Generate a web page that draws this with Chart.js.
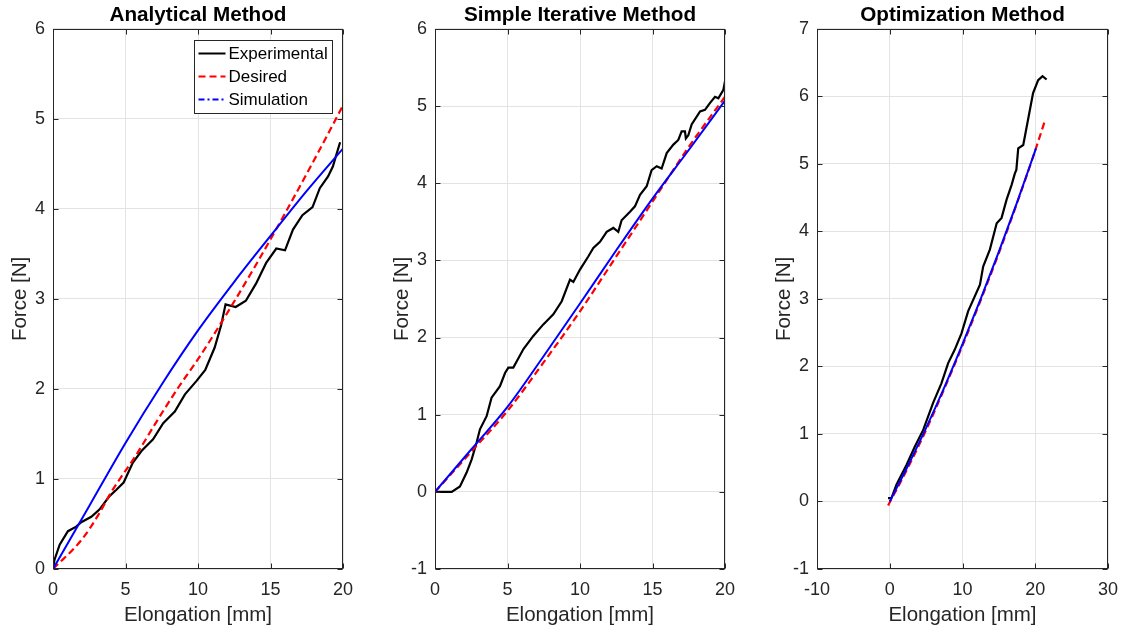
<!DOCTYPE html>
<html>
<head>
<meta charset="utf-8">
<script src="https://cdn.jsdelivr.net/npm/chart.js@4.4.1/dist/chart.umd.min.js"></script>
<style>
  html, body { margin: 0; padding: 0; background: #fff; }
  #wrap { position: relative; width: 1129px; height: 632px; overflow: hidden; background: #fff; }
  #wrap canvas { position: absolute; top: 0; }
</style>
</head>
<body>
<div id="wrap">
  <canvas id="c1" width="365" height="632" style="left:0px"></canvas>
  <canvas id="c2" width="365" height="632" style="left:382px"></canvas>
  <canvas id="c3" width="366" height="632" style="left:764px"></canvas>
</div>
<script>
// ---- Analytical method ----
const analyticalExpX = [0, 0.1, 0.46, 1.03, 1.6, 1.95, 2.64, 3.2, 3.9, 4.37, 4.87, 5.5, 6.1, 6.9, 7.6, 8.4, 9.1, 9.9, 10.5, 11.15, 11.6, 11.9, 12.6, 13.3, 14.0, 14.7, 15.4, 16.0, 16.55, 17.2, 17.9, 18.4, 18.97, 19.3, 19.54, 19.8];
const analyticalExpY = [0, 0.1, 0.27, 0.42, 0.47, 0.52, 0.58, 0.66, 0.81, 0.88, 0.96, 1.18, 1.31, 1.44, 1.62, 1.75, 1.94, 2.09, 2.21, 2.46, 2.71, 2.94, 2.91, 2.98, 3.17, 3.40, 3.56, 3.54, 3.77, 3.93, 4.02, 4.23, 4.36, 4.47, 4.60, 4.74];
const analyticalDesX = [0, 2, 3.2, 4, 5.75, 7, 8.7, 10, 12, 14, 16, 18, 20];
const analyticalDesY = [0, 0.33, 0.62, 0.85, 1.27, 1.6, 2.03, 2.33, 2.84, 3.38, 3.95, 4.54, 5.15];
const analyticalSimX = [0, 2.5, 5, 7.5, 10, 12.5, 15, 17.5, 20];
const analyticalSimY = [0, 0.7, 1.4, 2.05, 2.65, 3.19, 3.7, 4.2, 4.67];

// ---- Simple iterative method ----
const iterativeExpX = [0, 1.15, 1.72, 2.18, 2.53, 2.87, 3.1, 3.56, 3.9, 4.48, 4.83, 5.06, 5.4, 5.63, 6.1, 6.78, 7.47, 8.16, 8.74, 9.31, 9.54, 10.0, 10.57, 10.92, 11.38, 11.84, 12.3, 12.64, 12.87, 13.45, 13.79, 14.14, 14.6, 14.94, 15.29, 15.63, 15.98, 16.44, 16.78, 17.01, 17.24, 17.3, 17.47, 17.7, 18.28, 18.62, 18.97, 19.31, 19.54, 19.89, 19.95, 20.0];
const iterativeExpY = [0, 0, 0.07, 0.25, 0.42, 0.64, 0.81, 0.98, 1.22, 1.37, 1.54, 1.61, 1.61, 1.69, 1.85, 2.02, 2.17, 2.30, 2.47, 2.75, 2.72, 2.88, 3.05, 3.16, 3.24, 3.37, 3.42, 3.37, 3.52, 3.63, 3.70, 3.85, 3.96, 4.17, 4.22, 4.19, 4.39, 4.50, 4.56, 4.67, 4.67, 4.58, 4.62, 4.76, 4.93, 4.95, 5.04, 5.12, 5.10, 5.21, 5.27, 5.20];
const iterativeDesX = [0, 2.5, 5, 7.5, 10, 12.5, 15, 17.5, 20];
const iterativeDesY = [0, 0.52, 1.05, 1.68, 2.34, 3.05, 3.76, 4.47, 5.12];
const iterativeSimX = [0, 2.5, 5, 7.5, 10, 12.5, 15, 17.5, 20];
const iterativeSimY = [0, 0.55, 1.1, 1.76, 2.44, 3.13, 3.8, 4.43, 5.07];

// ---- Optimization method ----
const optimExpX = [-0.23, 0.23, 0.92, 2.3, 3.44, 4.6, 5.96, 7.1, 8.03, 8.94, 9.86, 10.78, 12.4, 12.84, 13.76, 14.7, 15.37, 16.06, 16.75, 17.2, 17.4, 17.66, 18.35, 19.0, 19.7, 20.4, 21.0, 21.56];
const optimExpY = [0.05, 0.05, 0.25, 0.54, 0.81, 1.06, 1.46, 1.75, 2.05, 2.25, 2.49, 2.82, 3.21, 3.48, 3.73, 4.12, 4.2, 4.47, 4.69, 4.86, 4.91, 5.23, 5.28, 5.65, 6.05, 6.24, 6.3, 6.25];
const optimDesX = [-0.23, 2.5, 5, 7.5, 10, 12.5, 15, 17.5, 20, 21.3];
const optimDesY = [-0.06, 0.5, 1.06, 1.67, 2.31, 2.98, 3.68, 4.42, 5.2, 5.63];
const optimSimX = [0, 2.5, 5, 7.5, 10, 12.5, 15, 17.5, 20.1];
const optimSimY = [0, 0.53, 1.09, 1.69, 2.33, 3.0, 3.7, 4.43, 5.23];

const plotTitles = ['Analytical Method', 'Simple Iterative Method', 'Optimization Method'];
const seriesLabels = ['Experimental', 'Desired', 'Simulation'];
const xAxisLabel = 'Elongation [mm]';
const yAxisLabel = 'Force [N]';

const FONT = "'Liberation Sans', Arial, Helvetica, sans-serif";
const TICK_COLOR = '#262626';
const GRID_COLOR = '#e3e3e3';
Chart.defaults.font.family = FONT;
Chart.defaults.animation = false;

function pts(xs, ys) { return xs.map((x, i) => ({ x: x, y: ys[i] })); }

function makeDatasets(ex, ey, dx, dy, sx, sy) {
  const base = { showLine: true, pointRadius: 0, pointHoverRadius: 0, fill: false };
  return [
    Object.assign({ label: seriesLabels[0], data: pts(ex, ey), borderColor: '#000000', borderWidth: 2.2,
      legendDash: [], order: 3, tension: 0 }, base),
    // model curves are smooth: let the library spline them
    Object.assign({ label: seriesLabels[1], data: pts(dx, dy), borderColor: '#ff0000', borderWidth: 2.2,
      borderDash: [7, 4], legendDash: [7, 4], order: 2, cubicInterpolationMode: 'monotone' }, base),
    Object.assign({ label: seriesLabels[2], data: pts(sx, sy), borderColor: '#0000ff', borderWidth: 2,
      legendDash: [6, 3, 2, 3], order: 1, cubicInterpolationMode: 'monotone' }, base)
  ];
}

// Box around the plot area with inward tick marks on all four sides
const framePlugin = {
  id: 'frame',
  afterDraw(chart) {
    const { ctx, chartArea: a, scales } = chart;
    const L = Math.round(a.left) + 0.5, R = Math.round(a.right) - 0.5;
    const T = Math.round(a.top) + 0.5, B = Math.round(a.bottom) - 0.5;
    const len = 5;
    ctx.save();
    ctx.strokeStyle = TICK_COLOR;
    ctx.lineWidth = 1;
    ctx.setLineDash([]);
    ctx.beginPath();
    scales.x.ticks.forEach(t => {
      const px = Math.round(scales.x.getPixelForValue(t.value)) + 0.5;
      ctx.moveTo(px, B); ctx.lineTo(px, B - len);
      ctx.moveTo(px, T); ctx.lineTo(px, T + len);
    });
    scales.y.ticks.forEach(t => {
      const py = Math.round(scales.y.getPixelForValue(t.value)) + 0.5;
      ctx.moveTo(L, py); ctx.lineTo(L + len, py);
      ctx.moveTo(R, py); ctx.lineTo(R - len, py);
    });
    ctx.stroke();
    ctx.strokeRect(L, T, R - L, B - T);
    ctx.restore();
  }
};

// Boxed legend in the upper right corner of the plot area
const boxLegendPlugin = {
  id: 'boxLegend',
  afterDraw(chart, args, opts) {
    if (!opts.display) return;
    const { ctx, chartArea: a } = chart;
    const sets = chart.data.datasets;
    const fontSize = 17;
    ctx.save();
    ctx.font = fontSize + 'px ' + FONT;
    const textW = Math.max(...sets.map(d => ctx.measureText(d.label).width));
    const lineW = 27, gap = 3, padL = 4, padR = 5, rowH = 23, padT = 13;
    const w = padL + lineW + gap + textW + padR;
    const h = padT + rowH * (sets.length - 1) + 14;
    const right = Math.round(a.right) - 11 + 0.5;
    const left = Math.round(right - w) + 0.5;
    const top = Math.round(a.top) + 11 + 0.5;
    ctx.fillStyle = '#ffffff';
    ctx.fillRect(left, top, right - left, h);
    ctx.strokeStyle = '#262626';
    ctx.lineWidth = 1;
    ctx.strokeRect(left, top, right - left, h);
    sets.forEach((d, i) => {
      const cy = top + padT + i * rowH;
      ctx.beginPath();
      ctx.setLineDash(d.legendDash || []);
      ctx.strokeStyle = d.borderColor;
      ctx.lineWidth = 2;
      ctx.moveTo(left + padL, cy);
      ctx.lineTo(left + padL + lineW, cy);
      ctx.stroke();
      ctx.setLineDash([]);
      ctx.fillStyle = '#000000';
      ctx.textBaseline = 'middle';
      ctx.textAlign = 'left';
      ctx.fillText(d.label, left + padL + lineW + gap, cy + 1);
    });
    ctx.restore();
  }
};

function makeChart(id, title, datasets, xr, yr, showLegend) {
  return new Chart(document.getElementById(id), {
    type: 'scatter',
    data: { datasets: datasets },
    options: {
      responsive: false,
      animation: false,
      layout: { padding: { left: 0, right: 22, top: 0, bottom: 0 } },
      plugins: {
        legend: { display: false },
        tooltip: { enabled: false },
        title: { display: true, text: title, fullSize: false, color: '#000000',
                 font: { size: 20.7, weight: 'bold' }, padding: { top: 3, bottom: 1 } },
        boxLegend: { display: showLegend }
      },
      scales: {
        x: {
          type: 'linear', position: 'bottom', min: xr[0], max: xr[1],
          ticks: { stepSize: xr[2], autoSkip: false, maxRotation: 0, padding: 10,
                   color: TICK_COLOR, font: { size: 18 } },
          grid: { color: GRID_COLOR, lineWidth: 1, drawTicks: false },
          border: { display: false },
          title: { display: true, text: xAxisLabel, color: TICK_COLOR, font: { size: 20.5 },
                   padding: { top: 0, bottom: 4 } },
          afterFit(s) { s.height = 63; }
        },
        y: {
          type: 'linear', position: 'left', min: yr[0], max: yr[1],
          ticks: { stepSize: yr[2], autoSkip: false, padding: 8,
                   color: TICK_COLOR, font: { size: 18 } },
          grid: { color: GRID_COLOR, lineWidth: 1, drawTicks: false },
          border: { display: false },
          title: { display: true, text: yAxisLabel, color: TICK_COLOR, font: { size: 20.5 },
                   padding: { top: 8, bottom: 0 } },
          afterFit(s) { s.width = 53; }
        }
      }
    },
    plugins: [framePlugin, boxLegendPlugin]
  });
}

makeChart('c1', plotTitles[0],
  makeDatasets(analyticalExpX, analyticalExpY, analyticalDesX, analyticalDesY, analyticalSimX, analyticalSimY),
  [0, 20, 5], [0, 6, 1], true);
makeChart('c2', plotTitles[1],
  makeDatasets(iterativeExpX, iterativeExpY, iterativeDesX, iterativeDesY, iterativeSimX, iterativeSimY),
  [0, 20, 5], [-1, 6, 1], false);
makeChart('c3', plotTitles[2],
  makeDatasets(optimExpX, optimExpY, optimDesX, optimDesY, optimSimX, optimSimY),
  [-10, 30, 10], [-1, 7, 1], false);
</script>
</body>
</html>
